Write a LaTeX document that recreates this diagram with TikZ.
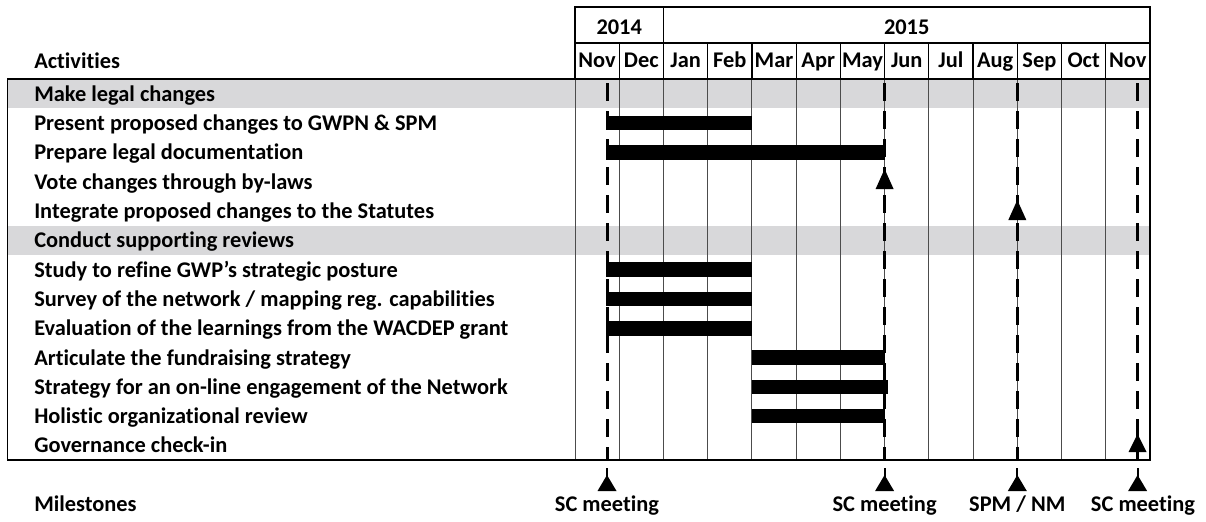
\documentclass[tikz,border=0pt]{standalone}
\usepackage{fontspec}
\setmainfont{Carlito}[Ligatures=NoCommon]
\definecolor{bandgray}{RGB}{216,216,218}
\begin{document}
\begin{tikzpicture}[x=0.75pt,y=-0.75pt,
  txt/.style={font=\fontsize{16.8}{20}\selectfont\bfseries, inner sep=0pt},
  gridline/.style={draw=black!70, line width=0.75pt},
  hdrline/.style={draw=black, line width=0.9pt},
  ganttbar/.style={fill=black},
  msline/.style={line width=2.25pt, dash pattern=on 13.5pt off 7.5pt},
  tri/.style={fill=black}]
\useasboundingbox (0,0) rectangle (1206,521);
% shaded group rows
\fill[bandgray] (7.5,79) rectangle (1150,108.3);
\fill[bandgray] (7.5,225.5) rectangle (1150,254.8);
% body grid
\foreach \i in {1,...,12} \draw[gridline] ({575+\i*44.23},79) -- ({575+\i*44.23},460);
\draw[gridline] (575,79) -- (575,460);
% header grid
\foreach \i in {1,...,12} \draw[hdrline] ({575+\i*44.23},43) -- ({575+\i*44.23},79);
\draw[hdrline] (663.5,7) -- (663.5,43);
\draw[hdrline] (575,7) rectangle (1150,79);
\draw[hdrline] (575,43) -- (1150,43);
\draw[hdrline] (7.5,79) rectangle (1150,460);
% year labels
\node[txt, anchor=base] (y2014) at (619.2,34) {2014};
\node[txt, anchor=base] (y2015) at (906.7,34) {2015};
% month labels
\foreach \m [count=\i from 0] in {Nov,Dec,Jan,Feb,Mar,Apr,May,Jun,Jul,Aug,Sep,Oct,Nov}
  \node[txt, anchor=base] (m\i) at ({575+(\i+0.5)*44.23},67.5) {\m};
\node[txt, anchor=base west] (act) at (34,68.5) {Activities};
% row labels
\foreach \t [count=\i from 0] in {Make legal changes,
  Present proposed changes to GWPN \& SPM,
  Prepare legal documentation,
  Vote changes through by-laws,
  Integrate proposed changes to the Statutes,
  Conduct supporting reviews,
  Study to refine GWP’s strategic posture,
  Survey of the network / mapping reg. capabilities,
  Evaluation of the learnings from the WACDEP grant,
  Articulate the fundraising strategy,
  Strategy for an on-line engagement of the Network,
  Holistic organizational review,
  Governance check-in}
  \node[txt, anchor=base west] (r\i) at (34,{79+29.3*(\i+0.5)+7.7}) {\t};
% bars
\foreach \r/\a/\b in {1/605.5/752, 2/605.5/884.6, 6/605.5/752, 7/605.5/752, 8/605.5/752,
  9/752/884.6, 10/752/888, 11/752/884.6}
  \fill[ganttbar] (\a,{79+29.3*(\r+0.5)-7}) rectangle (\b,{79+29.3*(\r+0.5)+7.5});
% milestone lines
\foreach \x in {607,884.6,1017.3,1137.6}
  \draw[msline] (\x,83) -- (\x,460);
% in-chart milestone markers
\fill[tri] (875.6,189) -- (884.6,169) -- (893.6,189) -- cycle;
\fill[tri] (1008.3,220) -- (1017.3,200) -- (1026.3,220) -- cycle;
\fill[tri] (1128.6,452) -- (1137.6,434) -- (1146.6,452) -- cycle;
\draw[line width=2.25pt] (1137.6,450) -- (1137.6,460);
% bottom milestones
\foreach \x in {607,884.6,1017.3,1137.6}{
  \draw[line width=1.6pt] (\x,468) -- (\x,478);
  \fill[tri] (\x-9.5,491) -- (\x,475) -- (\x+9.5,491) -- cycle;
}
\node[txt, anchor=base west] (mst) at (34,511) {Milestones};
\node[txt, anchor=base] (sc1) at (607,511) {SC meeting};
\node[txt, anchor=base] (sc2) at (884.6,511) {SC meeting};
\node[txt, anchor=base] (spm) at (1017.3,511) {SPM / NM};
\node[txt, anchor=base] (sc3) at (1143,511) {SC meeting};
\end{tikzpicture}
\end{document}
